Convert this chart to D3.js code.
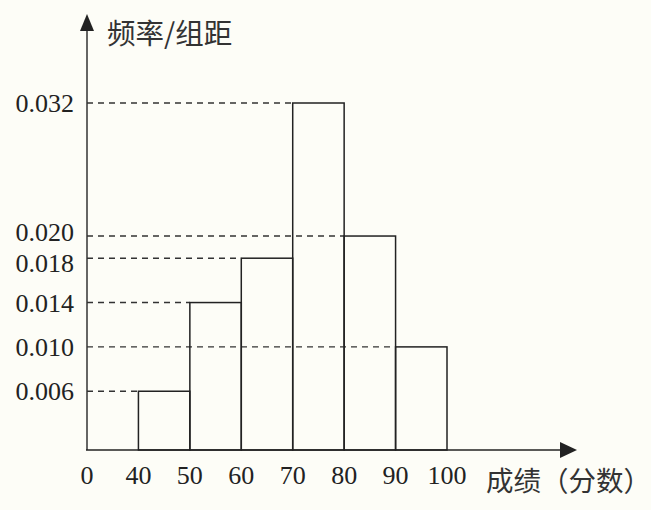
<!DOCTYPE html>
<html>
<head>
<meta charset="utf-8">
<script src="https://cdn.jsdelivr.net/npm/d3@7"></script>
<style>
  body { margin: 0; background: #fdfdf7; }
  svg { display: block; }
  .num { font-family: "Liberation Serif", "DejaVu Serif", serif; font-size: 26px; fill: #222; }
  .cjk { font-family: "Noto Sans CJK SC", sans-serif; fill: #333; }
</style>
</head>
<body>
<div id="root"></div>
<script>
// histogram data (score bins, frequency / bin width)
const binStarts = [40, 50, 60, 70, 80, 90];
const binWidth = 10;
const densities = [0.006, 0.014, 0.018, 0.032, 0.020, 0.010];

// ticks
const xTickValues = [30, 40, 50, 60, 70, 80, 90, 100]; // 30 stands in for the broken "0"
const xTickLabels = ["0", "40", "50", "60", "70", "80", "90", "100"];
const yTickValues = [0.006, 0.010, 0.014, 0.018, 0.020, 0.032];
const yTickLabels = ["0.006", "0.010", "0.014", "0.018", "0.020", "0.032"];

const yTitle = "频率/组距";
const xTitle = "成绩（分数）";

const width = 651;
const height = 510;
const axisX = 87;
const axisY = 450;

const svg = d3.select("#root")
  .append("svg")
  .attr("width", width)
  .attr("height", height);

const x = d3.scaleLinear().domain([30, 100]).range([axisX, 447]);
const y = d3.scaleLinear().domain([0.0007, 0.032]).range([axisY, 103]);

// dashed guide lines from the axis to each bar
svg.append("g")
  .selectAll("line")
  .data(binStarts)
  .enter()
  .append("line")
  .attr("x1", axisX)
  .attr("x2", (d) => x(d))
  .attr("y1", (d, i) => y(densities[i]))
  .attr("y2", (d, i) => y(densities[i]))
  .attr("stroke", "#333")
  .attr("stroke-width", 1.4)
  .attr("stroke-dasharray", "6,5");

// bars
svg.append("g")
  .selectAll("rect")
  .data(binStarts)
  .enter()
  .append("rect")
  .attr("x", (d) => x(d))
  .attr("y", (d, i) => y(densities[i]))
  .attr("width", (d) => x(d + binWidth) - x(d))
  .attr("height", (d, i) => axisY - y(densities[i]))
  .attr("fill", "none")
  .attr("stroke", "#222")
  .attr("stroke-width", 1.5);

// axes with arrows
svg.append("line")
  .attr("x1", axisX).attr("y1", axisY)
  .attr("x2", axisX).attr("y2", 28)
  .attr("stroke", "#333").attr("stroke-width", 1.5);
svg.append("path")
  .attr("d", `M${axisX},14 L${axisX - 7},31 L${axisX + 7},31 Z`)
  .attr("fill", "#222");

svg.append("line")
  .attr("x1", axisX - 1).attr("y1", axisY)
  .attr("x2", 563).attr("y2", axisY)
  .attr("stroke", "#222").attr("stroke-width", 1.5);
svg.append("path")
  .attr("d", `M577,${axisY} L560,${axisY - 8} L560,${axisY + 8} Z`)
  .attr("fill", "#222");

// tick labels
svg.append("g")
  .selectAll("text")
  .data(xTickValues)
  .enter()
  .append("text")
  .attr("class", "num")
  .attr("x", (d) => x(d))
  .attr("y", 484)
  .attr("text-anchor", "middle")
  .text((d, i) => xTickLabels[i]);

// y labels: push apart labels that sit too close together
const minGap = 31;
const labelY = yTickValues.map((d) => y(d));
for (let k = 0; k < 20; k++) {
  for (let i = 1; i < labelY.length; i++) {
    const gap = labelY[i - 1] - labelY[i];
    if (gap < minGap) {
      const push = (minGap - gap) / 2;
      labelY[i - 1] += push;
      labelY[i] -= push;
    }
  }
}

svg.append("g")
  .selectAll("text")
  .data(yTickValues)
  .enter()
  .append("text")
  .attr("class", "num")
  .attr("x", 74)
  .attr("y", (d, i) => labelY[i])
  .attr("dy", "0.35em")
  .attr("text-anchor", "end")
  .text((d, i) => yTickLabels[i]);

// axis titles
svg.append("text")
  .attr("class", "cjk")
  .attr("x", 107)
  .attr("y", 44)
  .style("font-size", "28.5px")
  .text(yTitle);

svg.append("text")
  .attr("class", "cjk")
  .attr("x", 486)
  .attr("y", 491)
  .style("font-size", "27.5px")
  .text(xTitle);
</script>
</body>
</html>
